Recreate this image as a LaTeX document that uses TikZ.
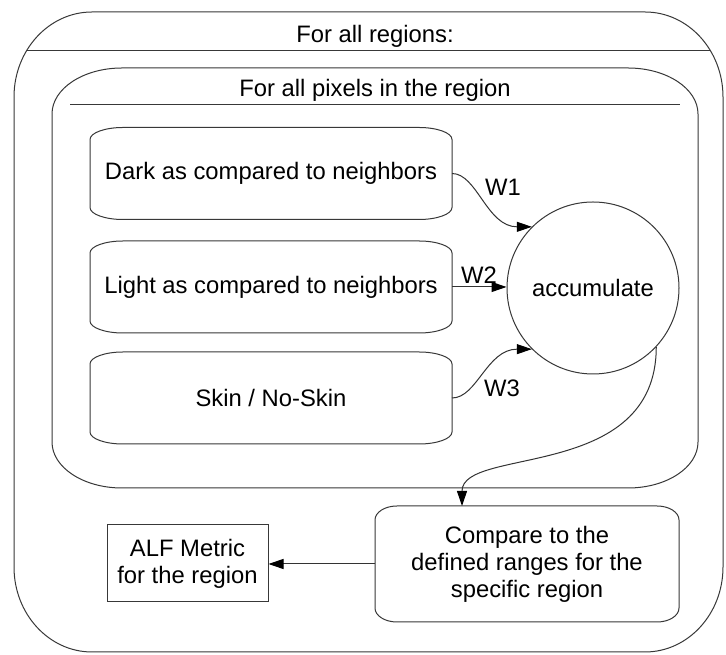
\documentclass[tikz,border=0pt]{standalone}
\usepackage{fontspec}
\setmainfont{Liberation Sans}
\usetikzlibrary{arrows.meta,calc}

% Outline of a box with elliptical corners, built on the anchors of a frame node:
% #1 path options, #2 node name, #3 x radius, #4 y radius
\newcommand\ovalpath[4][draw]{%
  \path[#1] ([xshift=#3]#2.north west) -- ([xshift=-#3]#2.north east)
    arc[start angle=90,end angle=0,x radius=#3,y radius=#4]
    -- ([yshift=#4]#2.south east)
    arc[start angle=0,end angle=-90,x radius=#3,y radius=#4]
    -- ([xshift=#3]#2.south west)
    arc[start angle=270,end angle=180,x radius=#3,y radius=#4]
    -- ([yshift=-#4]#2.north west)
    arc[start angle=180,end angle=90,x radius=#3,y radius=#4]
    -- cycle;}

\begin{document}
\begin{tikzpicture}[x=1pt,y=1pt,
  every node/.style={font=\fontsize{23.8}{27}\selectfont, text=black},
  frame/.style={draw=none, inner sep=0pt, outer sep=0pt},
  outline/.style={draw=black!78, line width=1pt},
  conn/.style={draw=black!80, line width=1pt, -{Triangle[length=15pt,width=10pt,color=black]}},
  wlabel/.style={inner sep=0pt}]
\useasboundingbox (0,0) rectangle (726,655);
\fill[white] (0,0) rectangle (726,655);

% outer loop frame
\node[frame, minimum width=709pt, minimum height=640pt] (outer) at (368.5,323) {};
\ovalpath[outline]{outer}{78pt}{85pt}
\begin{scope}
  \ovalpath[clip]{outer}{78pt}{85pt}
  \draw[outline] (0,604) -- (726,604);
\end{scope}
\node[anchor=base] (t1) at (375,612) {For all regions:};

% inner loop frame
\node[frame, minimum width=646pt, minimum height=420pt] (inner) at (375,377) {};
\ovalpath[outline]{inner}{70pt}{46pt}
\draw[outline] (70,550) -- (680,550);
\node[anchor=base] (t2) at (375,558) {For all pixels in the region};

% per-pixel tests
\node[frame, minimum width=362pt, minimum height=92pt] (dark) at (271,481.5) {Dark as compared to neighbors};
\ovalpath[outline]{dark}{33pt}{12pt}
\node[frame, minimum width=362pt, minimum height=92pt] (light) at (271,368) {Light as compared to neighbors};
\ovalpath[outline]{light}{33pt}{12pt}
\node[frame, minimum width=362pt, minimum height=92pt] (skin) at (271,257) {Skin / No-Skin};
\ovalpath[outline]{skin}{33pt}{12pt}

% accumulator
\node[circle, draw=black!78, line width=1pt, minimum size=172pt, inner sep=0pt] (acc) at (593,367) {accumulate};

% comparison and result
\node[frame, minimum width=304pt, minimum height=116pt, align=center] (cmp) at (527,91) {Compare to the\\defined ranges for the\\specific region};
\ovalpath[outline]{cmp}{22pt}{14pt}
\node[draw=black!78, line width=1pt, minimum width=161pt, minimum height=77pt, inner sep=0pt, align=center] (alf) at (187.5,91.5) {ALF Metric\\for the region};

% weighted connections
\draw[conn] (dark.east) .. controls +(25,0) and +(-45,0) .. (acc.135);
\draw[conn] (light.east) -- (light.east -| acc.west);
\draw[conn] (skin.east) .. controls +(25,0) and +(-45,0) .. (acc.225);
\node[wlabel] (w1) at (503,468) {W1};
\node[wlabel] (w2) at (479,380) {W2};
\node[wlabel] (w3) at (502,267) {W3};

\coordinate (cmpin) at ([xshift=-65pt]cmp.north);
\draw[conn] (acc.-43) .. controls +(0,-135) and +(0,60) .. (cmpin);
\draw[conn] (cmp.west) -- (cmp.west -| alf.east);
\end{tikzpicture}
\end{document}
